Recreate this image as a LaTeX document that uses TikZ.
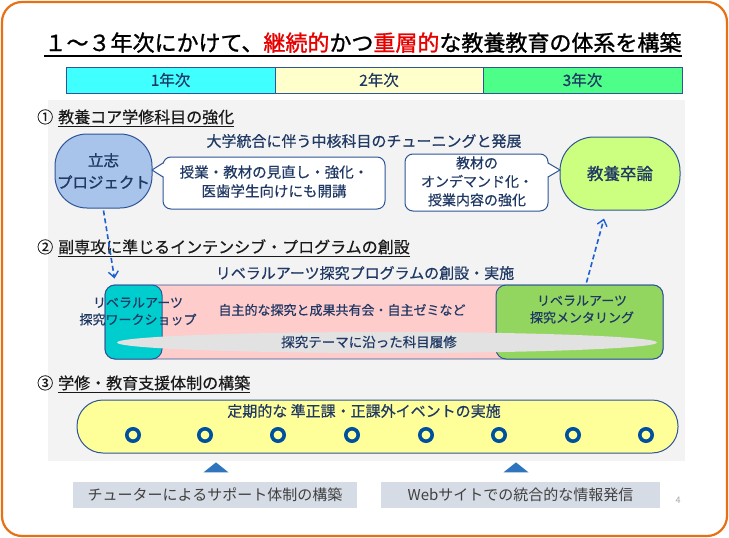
\documentclass[tikz,border=0pt]{standalone}
\usepackage{fontspec}
\newfontfamily\jp{Noto Sans CJK JP}
\newfontfamily\jpm{Noto Sans CJK JP}[FakeBold=0.5]
\newfontfamily\jpb{Noto Sans CJK JP}[FakeBold=1.2]
\usetikzlibrary{arrows.meta,shapes.geometric,calc}
\definecolor{orangeB}{RGB}{232,112,20}
\definecolor{navyT}{HTML}{1F3864}
\definecolor{blueB}{HTML}{2F5597}
\definecolor{headT}{HTML}{1A1A1A}
\definecolor{redT}{RGB}{230,0,0}
\definecolor{cyanY}{RGB}{64,255,255}
\definecolor{yellowY}{RGB}{255,255,204}
\definecolor{greenY}{RGB}{77,255,136}
\definecolor{panelG}{RGB}{243,243,243}
\definecolor{risshiF}{RGB}{169,196,235}
\definecolor{sotsuF}{RGB}{204,255,128}
\definecolor{pinkF}{RGB}{255,204,204}
\definecolor{cyanP}{RGB}{0,206,206}
\definecolor{greenP}{RGB}{146,214,96}
\definecolor{ellG}{RGB}{226,226,226}
\definecolor{yellowB}{RGB}{255,255,153}
\definecolor{ringB}{RGB}{0,80,160}
\definecolor{triB}{RGB}{46,117,190}
\definecolor{labelF}{RGB}{214,220,229}
\definecolor{labelT}{RGB}{64,64,64}
\definecolor{dashB}{RGB}{30,95,210}
\tikzset{
  yearcell/.style={draw=blueB, line width=0.8pt, minimum height=26, inner sep=0, text=navyT, font=\jpm\fontsize{15.5}{18}\selectfont},
  heading/.style={anchor=base west, inner sep=0, text=headT, font=\jpm\fontsize{16}{19}\selectfont},
  bodytxt/.style={inner sep=0, text=navyT, align=center, font=\jpm\fontsize{14.5}{19}\selectfont},
  smalltxt/.style={inner sep=0, text=navyT, align=center, font=\jpm\fontsize{13}{17}\selectfont},
  blob/.style={draw=blueB, line width=1pt, inner sep=0, align=center, text=navyT},
  callout/.style={draw=blueB, line width=1pt, fill=white, rounded corners=8, inner sep=0},
  dasharrow/.style={draw=dashB, line width=1.6pt, dash pattern=on 5pt off 3pt, -{Straight Barb[length=6pt,width=10pt,line width=1.4pt]}},
  ring/.style={circle, draw=ringB, line width=3.6pt, fill=yellowB, minimum size=12.4, inner sep=0},
  tri/.style={isosceles triangle, shape border rotate=90, isosceles triangle stretches, fill=triB, minimum width=25, minimum height=10, inner sep=0},
  labelbox/.style={fill=labelF, minimum height=26, inner sep=0, text=labelT, font=\jp\fontsize{15}{18}\selectfont}
}
\begin{document}
\begin{tikzpicture}[x=1pt,y=-1pt]
\useasboundingbox (0,0) rectangle (729,538);
\fill[white] (0,0) rectangle (729,538);
\draw[orangeB, line width=2.2pt, rounded corners=20] (2,2) rectangle (727,536);

% title
\node[inner sep=0, anchor=base, font=\jpb\fontsize{22}{26}\selectfont, text=black] (title) at (363,51)
  {１～３年次にかけて、\textcolor{redT}{継続的}かつ\textcolor{redT}{重層的}な教養教育の体系を構築};
\draw[black, line width=1.6pt] ([yshift=-5pt]title.base west) -- ([yshift=-5pt]title.base east);

% year bar
\node[yearcell, fill=cyanY, minimum width=209] (y1) at (170.5,80) {1年次};
\node[yearcell, fill=yellowY, minimum width=208] (y2) at (379,80) {2年次};
\node[yearcell, fill=greenY, minimum width=199] (y3) at (582.5,80) {3年次};

% panel
\fill[panelG] (48,100) rectangle (685,461);

% section 1
\node[heading] (n1) at (37,123) {①};
\node[heading] (h1) at (58,123) {教養コア学修科目の強化};
\draw[headT, line width=0.8pt] ([yshift=-3.5pt]h1.base west) -- ([yshift=-3.5pt]h1.base east);
\node[bodytxt, font=\jpm\fontsize{15}{18}\selectfont] (sub1) at (364,141) {大学統合に伴う中核科目のチューニングと発展};

\node[blob, fill=risshiF, rounded corners=32, minimum width=97, minimum height=74,
      font=\jpb\fontsize{15.5}{22}\selectfont] (risshi) at (103.5,171) {立志\\プロジェクト};
\node[blob, fill=sotsuF, rounded corners=34, minimum width=120, minimum height=73,
      font=\jpb\fontsize{16.5}{20}\selectfont] (sotsu) at (620,173.5) {教養卒論};

\node[callout, minimum width=222, minimum height=52] (c1) at (274,183) {};
\coordinate (c1t) at (152,170);
\coordinate (c1a) at (163,163);
\coordinate (c1b) at (163,177);
\fill[white] ($(c1a)+(1.5,0)$) -- (c1t) -- ($(c1b)+(1.5,0)$) -- cycle;
\draw[blueB, line width=1pt, line join=round] (c1a) -- (c1t) -- (c1b);
\node[bodytxt] (c1txt) at (274,181.5) {授業・教材の見直し・強化・\\医歯学生向けにも開講};

\node[callout, minimum width=143, minimum height=57] (c2) at (476.5,182.5) {};
\coordinate (c2t) at (560,170);
\coordinate (c2a) at (548,163);
\coordinate (c2b) at (548,177);
\fill[white] ($(c2a)+(-1.5,0)$) -- (c2t) -- ($(c2b)+(-1.5,0)$) -- cycle;
\draw[blueB, line width=1pt, line join=round] (c2a) -- (c2t) -- (c2b);
\node[bodytxt, font=\jpm\fontsize{14}{18.5}\selectfont] (c2txt) at (477,181.5) {教材の\\オンデマンド化・\\授業内容の強化};

% section 2
\node[heading] (n2) at (37,253) {②};
\node[heading] (h2) at (58,253) {副専攻に準じるインテンシブ・プログラムの創設};
\draw[headT, line width=0.8pt] ([yshift=-3.5pt]h2.base west) -- ([yshift=-3.5pt]h2.base east);
\node[bodytxt, font=\jpm\fontsize{15}{18}\selectfont] (sub2) at (365,273) {リベラルアーツ探究プログラムの創設・実施};

\node[draw=blueB, line width=0.8pt, fill=pinkF, rounded corners=10, minimum width=558, minimum height=74, inner sep=0] (bar) at (384,322) {};
\node[draw=blueB, line width=1pt, fill=cyanP, rounded corners=10, minimum width=57, minimum height=74, inner sep=0] (ws) at (133.5,322) {};
\node[draw=blueB, line width=1pt, fill=greenP, rounded corners=10, minimum width=167, minimum height=74, inner sep=0] (ms) at (579.5,322) {};
\node[ellipse, fill=ellG, minimum width=540, minimum height=21, inner sep=0] (ell) at (387,342.5) {};
\node[smalltxt, font=\jpm\fontsize{13.5}{17}\selectfont] (elltxt) at (369,342) {探究テーマに沿った科目履修};
\node[smalltxt] (wstxt) at (138,311.5) {リベラルアーツ\\探究ワークショップ};
\node[smalltxt] (jishu) at (342,310) {自主的な探究と成果共有会・自主ゼミなど};
\node[smalltxt] (mstxt) at (582,309.5) {リベラルアーツ\\探究メンタリング};

% dashed arrows
\draw[dasharrow] ($(risshi.south)+(0,2)$) -- ($(ws.north west)+(10,-6)$);
\draw[dasharrow] ($(ms.north)+(7,-2)$) -- ($(sotsu.south)+(-16,8)$);

% section 3
\node[heading] (n3) at (37,389) {③};
\node[heading] (h3) at (58,389) {学修・教育支援体制の構築};
\draw[headT, line width=0.8pt] ([yshift=-3.5pt]h3.base west) -- ([yshift=-3.5pt]h3.base east);

\node[draw=blueB, line width=1pt, fill=yellowB, rounded corners=26, minimum width=601, minimum height=53, inner sep=0] (ev) at (377.5,426.5) {};
\node[bodytxt, font=\jpm\fontsize{15}{18}\selectfont] (evtxt) at (364,411) {定期的な 準正課・正課外イベントの実施};
\foreach \i/\xx in {1/133,2/205,3/278,4/352,5/426,6/499,7/573,8/646} {
  \node[ring] (r\i) at (\xx,435) {};
}

\node[tri] (t1) at (216,468) {};
\node[tri] (t2) at (516,468) {};

\node[labelbox, minimum width=284] (lb1) at (215,495) {チューターによるサポート体制の構築};
\node[labelbox, minimum width=279] (lb2) at (520.5,495) {Webサイトでの統合的な情報発信};

\node[inner sep=0, text=gray!70, font=\jp\fontsize{9}{11}\selectfont] (pg) at (678,500) {4};
\end{tikzpicture}
\end{document}
